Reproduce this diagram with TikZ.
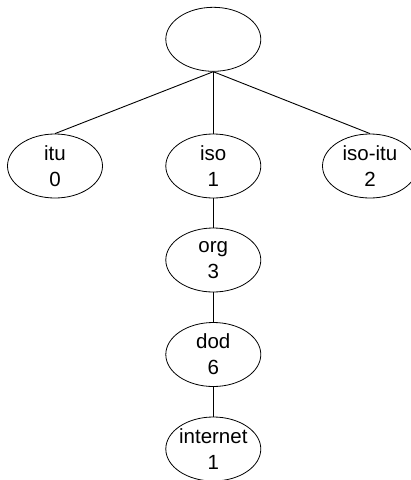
\documentclass[tikz,border=0pt]{standalone}
\usepackage{fontspec}
\setmainfont{Liberation Sans}
\usetikzlibrary{shapes.geometric}
\begin{document}
\begin{tikzpicture}[x=1pt,y=-1pt,
  oval/.style={draw=black, line width=0.8pt, ellipse, minimum width=95pt, minimum height=64pt, inner sep=0pt},
  lbl/.style={align=center, inner sep=0pt, font=\fontsize{20.5}{25.7}\selectfont},
  edge/.style={draw=black, line width=0.9pt}]
\useasboundingbox (0,0) rectangle (411,480);
\node[oval] (root) at (213.3,39.3) {};
\node[oval] (itu) at (55,166) {};
\node[oval] (iso) at (213.3,166) {};
\node[oval] (isoitu) at (370,166) {};
\node[oval] (org) at (213.3,260) {};
\node[oval] (dod) at (213.3,354.5) {};
\node[oval] (internet) at (213.3,449) {};
\node[lbl] (itu-t) at (itu) {itu\\0};
\node[lbl] (iso-t) at (iso) {iso\\1};
\node[lbl] (isoitu-t) at (isoitu) {iso-itu\\2};
\node[lbl] (org-t) at (org) {org\\3};
\node[lbl] (dod-t) at (dod) {dod\\6};
\node[lbl] (internet-t) at (internet) {internet\\1};
\draw[edge] (root.south) -- (itu.north);
\draw[edge] (root.south) -- (iso.north);
\draw[edge] (root.south) -- (isoitu.north);
\draw[edge] (iso.south) -- (org.north);
\draw[edge] (org.south) -- (dod.north);
\draw[edge] (dod.south) -- (internet.north);
\end{tikzpicture}
\end{document}
